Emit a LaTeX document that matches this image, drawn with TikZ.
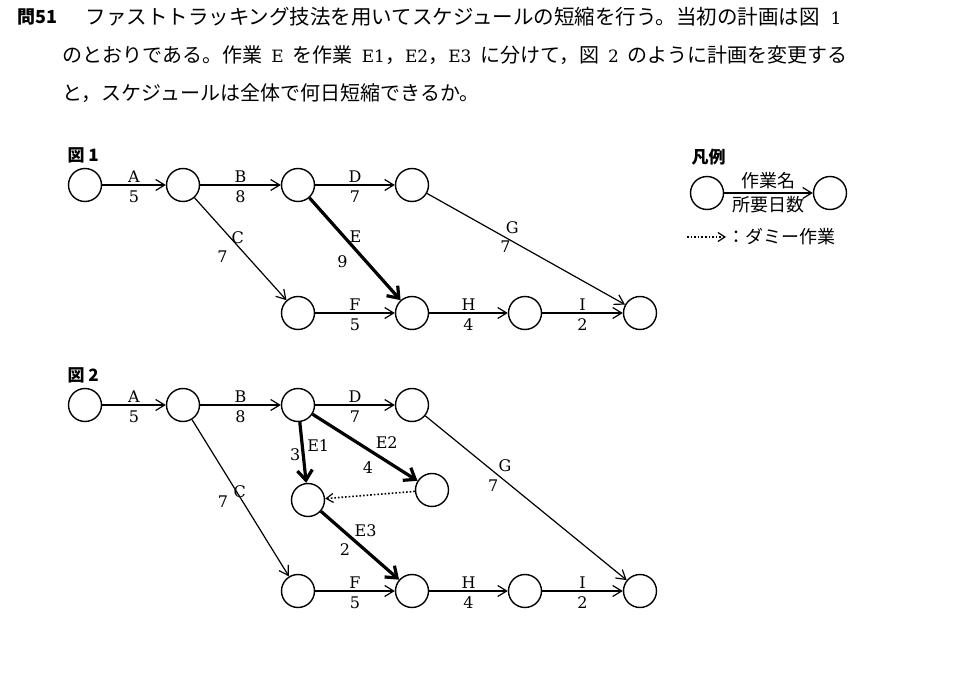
\documentclass[tikz,border=0pt]{standalone}
\usepackage{fontspec}
\usepackage{tikz}
\usetikzlibrary{arrows.meta}
\setmainfont{DejaVu Serif}
\newfontfamily\jp{Noto Sans CJK JP}
\newcommand\lat[1]{{\rmfamily\fontsize{17}{17}\selectfont #1}}

\begin{document}
\begin{tikzpicture}
	 [x=1pt,y=-1pt,line width=1.2pt,
	  every node/.style={font=\fontsize{16}{16}\selectfont,inner sep=1pt},
	  ev/.style={circle,draw,minimum size=33pt,inner sep=0pt,line width=1.4pt},
	  act/.style={-{Straight Barb[length=9pt,width=11pt]}},
	  crit/.style={line width=3.2pt,-{Straight Barb[length=10pt,width=15pt]}},
	  dum/.style={dotted,line width=1.6pt,-{Straight Barb[length=7pt,width=9pt,line width=1.2pt]}},
	  txt/.style={anchor=west,font=\fontsize{20}{20}\selectfont\jp}]

  \useasboundingbox (0,0) rectangle (964,700);

  \node[txt,font=\fontsize{18}{18}\selectfont\jp] (q) at (16,17) {\bfseries 問51};
  \node[txt,font=\fontsize{20.5}{20}\selectfont\jp] (l1) at (84,17) {ファストトラッキング技法を用いてスケジュールの短縮を行う。当初の計画は図\hspace{11pt}\lat{1}};
  \node[txt] (l2) at (61,55) {のとおりである。作業\hspace{9pt}\lat{E}\hspace{9pt}を作業\hspace{9pt}\lat{E1}，\lat{E2}，\lat{E3}\hspace{9pt}に分けて，図\hspace{9pt}\lat{2}\hspace{9pt}のように計画を変更する};
  \node[txt] (l3) at (61,93) {と，スケジュールは全体で何日短縮できるか。};

  \node[anchor=west,font=\fontsize{17}{17}\selectfont\jp\bfseries] (f1) at (66,155) {図 1};
  \node[ev] (a) at (85,185) {};
    \node[ev] (b) at (183,185) {};
    \node[ev] (c) at (298,185) {};
    \node[ev] (d) at (412,185) {};
    \node[ev] (f) at (298,313) {};
    \node[ev] (h) at (412,313) {};
    \node[ev] (i) at (525,313) {};
    \node[ev] (z) at (640,313) {};
    \foreach \from/\to/\nm/\d in {a/b/A/5,b/c/B/8,c/d/D/7,f/h/F/5,h/i/H/4,i/z/I/2}
    \draw[act] (\from) -- node[above=1pt]{\nm} node[below=4pt]{\d} (\to);
    \draw[act] (b) -- node[pos=.394,xshift=7pt]{C} node[pos=.577,xshift=-25pt]{7} (f);
    \draw[crit] (c) -- node[pos=.384,xshift=11pt]{E} node[pos=.626,xshift=-24pt]{9} (h);
    \draw[act] (d) -- node[pos=.43,yshift=14pt]{G} node[pos=.482,xshift=-17pt]{7} (z);

  \node[anchor=west,font=\fontsize{17}{17}\selectfont\jp\bfseries] (f2) at (66,375) {図 2};
	 \node[ev] (a2) at (85,405) {};
    \node[ev] (b2) at (183,405) {};
    \node[ev] (c2) at (298,405) {};
    \node[ev] (d2) at (412,405) {};
    \node[ev] (e1) at (308,500) {};
    \node[ev] (e2) at (432,490) {};
    \node[ev] (f2n) at (298,591) {};
    \node[ev] (h2) at (412,591) {};
    \node[ev] (i2) at (525,591) {};
    \node[ev] (z2) at (640,591) {};
    \foreach \from/\to/\nm/\d in {a2/b2/A/5,b2/c2/B/8,c2/d2/D/7,f2n/h2/F/5,h2/i2/H/4,i2/z2/I/2}
    \draw[act] (\from) -- node[above=1pt]{\nm} node[below=4pt]{\d} (\to);
    \draw[act] (b2) -- node[pos=.462,xshift=3pt]{C} node[pos=.525,xshift=-20pt]{7} (f2n);
    \draw[act] (d2) -- node[pos=.396,yshift=15pt]{G} node[pos=.427,xshift=-18pt]{7} (z2);
    \draw[crit] (c2) -- node[pos=.38,xshift=16pt]{E1} node[pos=.54,xshift=-8pt]{3} (e1);
    \draw[crit] (c2) -- node[pos=.707,yshift=19pt]{E2} node[pos=.528,yshift=-18pt]{4} (e2);
    \draw[crit] (e1) -- node[pos=.276,xshift=23pt]{E3} node[pos=.565,xshift=-20pt]{2} (h2);
    \draw[dum] (e2) -- (e1);

  \node[anchor=west,font=\fontsize{17}{17}\selectfont\jp\bfseries] (lg) at (690,157) {凡例};
    \node[ev] (lx) at (707,193) {};
    \node[ev] (ly) at (830,193) {};
    \draw[act] (lx) -- node[above=2pt,font=\fontsize{18}{18}\selectfont\jp]{作業名}
      node[below=2pt,font=\fontsize{18}{18}\selectfont\jp]{所要日数} (ly);
    \coordinate (dl) at (687,237);
    \node[anchor=west,font=\fontsize{18}{18}\selectfont\jp] (dt) at (726,237) {：ダミー作業};
    \draw[dum] (dl) -- (dt.west);

\end{tikzpicture}
\end{document}
